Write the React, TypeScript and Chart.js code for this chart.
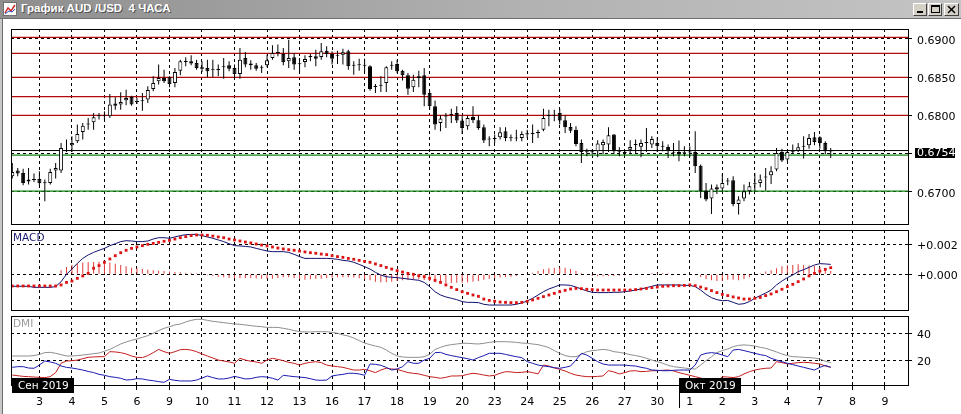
import React, { useEffect, useRef } from "react";
import { Chart, registerables } from "chart.js";

Chart.register(...registerables);

// ---------- DATA (AUD/USD, 4H bars) ----------
const open = [0.67204,0.67278,0.67248,0.67161,0.67156,0.67169,0.67126,0.67117,0.67278,0.67278,
0.67531,0.67609,0.67661,0.67783,0.67879,0.67909,0.67987,0.67987,0.67987,0.68153,
0.68140,0.68196,0.68240,0.68174,0.68183,0.68205,0.68344,0.68444,0.68488,0.68496,
0.68422,0.68583,0.68714,0.68705,0.68683,0.68627,0.68618,0.68596,0.68592,0.68627,
0.68653,0.68618,0.68540,0.68749,0.68675,0.68653,0.68622,0.68653,0.68749,0.68827,
0.68801,0.68705,0.68757,0.68675,0.68696,0.68762,0.68770,0.68762,0.68844,0.68801,
0.68779,0.68792,0.68836,0.68653,0.68653,0.68657,0.68640,0.68370,0.68387,0.68422,
0.68648,0.68670,0.68583,0.68522,0.68366,0.68488,0.68522,0.68292,0.68118,0.67900,
0.67983,0.68005,0.68031,0.67931,0.67857,0.67979,0.67935,0.67844,0.67683,0.67691,
0.67713,0.67792,0.67709,0.67696,0.67705,0.67765,0.67757,0.67770,0.67813,0.67992,
0.67996,0.68031,0.67935,0.67848,0.67813,0.67639,0.67522,0.67517,0.67531,0.67609,
0.67618,0.67748,0.67517,0.67509,0.67552,0.67613,0.67591,0.67639,0.67618,0.67639,
0.67600,0.67587,0.67504,0.67522,0.67504,0.67513,0.67522,0.67343,0.67017,0.66913,
0.67061,0.67043,0.67135,0.67152,0.66843,0.66913,0.67008,0.67100,0.67117,0.67187,
0.67217,0.67291,0.67522,0.67422,0.67517,0.67539,0.67591,0.67609,0.67713,0.67713,
0.67639,0.67526];

const high = [0.67378,0.67313,0.67304,0.67313,0.67239,0.67270,0.67161,0.67304,0.67378,0.67639,
0.67683,0.67726,0.67879,0.67900,0.67966,0.68029,0.68031,0.68053,0.68279,0.68235,
0.68300,0.68335,0.68257,0.68227,0.68292,0.68379,0.68509,0.68662,0.68596,0.68509,
0.68618,0.68727,0.68757,0.68783,0.68727,0.68705,0.68727,0.68727,0.68662,0.68749,
0.68705,0.68662,0.68879,0.68827,0.68718,0.68683,0.68653,0.68792,0.68914,0.68923,
0.68879,0.68988,0.68814,0.68749,0.68783,0.68801,0.68857,0.68944,0.68901,0.68836,
0.68844,0.68870,0.68857,0.68705,0.68740,0.68740,0.68653,0.68409,0.68509,0.68640,
0.68705,0.68727,0.68596,0.68553,0.68531,0.68583,0.68618,0.68314,0.68192,0.68000,
0.68031,0.68087,0.68118,0.68000,0.68000,0.68118,0.68000,0.67879,0.67726,0.67748,
0.67844,0.67844,0.67748,0.67813,0.67792,0.67813,0.67879,0.67813,0.68087,0.68074,
0.68074,0.68087,0.68000,0.67900,0.67857,0.67683,0.67565,0.67552,0.67674,0.67683,
0.67844,0.67757,0.67583,0.67539,0.67674,0.67683,0.67683,0.67835,0.67726,0.67713,
0.67661,0.67618,0.67639,0.67670,0.67596,0.67596,0.67792,0.67357,0.67117,0.67096,
0.67096,0.67235,0.67183,0.67204,0.66943,0.67096,0.67130,0.67248,0.67226,0.67313,
0.67335,0.67574,0.67565,0.67552,0.67618,0.67639,0.67726,0.67757,0.67783,0.67726,
0.67661,0.67574];

const low = [0.67174,0.67204,0.67087,0.67096,0.67130,0.67074,0.66878,0.67096,0.67174,0.67248,
0.67522,0.67522,0.67639,0.67683,0.67813,0.67813,0.67944,0.67931,0.67966,0.68074,
0.68074,0.68131,0.68126,0.68148,0.68061,0.68161,0.68314,0.68401,0.68422,0.68366,
0.68366,0.68522,0.68640,0.68653,0.68596,0.68566,0.68496,0.68496,0.68509,0.68479,
0.68575,0.68488,0.68479,0.68627,0.68596,0.68583,0.68553,0.68627,0.68727,0.68770,
0.68653,0.68618,0.68596,0.68553,0.68627,0.68705,0.68640,0.68727,0.68757,0.68662,
0.68670,0.68662,0.68596,0.68531,0.68583,0.68553,0.68322,0.68292,0.68305,0.68305,
0.68596,0.68553,0.68453,0.68270,0.68305,0.68366,0.68118,0.68074,0.67813,0.67792,
0.67835,0.67900,0.67900,0.67757,0.67813,0.67900,0.67813,0.67639,0.67596,0.67639,
0.67683,0.67661,0.67661,0.67661,0.67661,0.67705,0.67639,0.67705,0.67792,0.67857,
0.67922,0.67879,0.67770,0.67770,0.67596,0.67378,0.67465,0.67487,0.67452,0.67496,
0.67522,0.67496,0.67465,0.67478,0.67509,0.67509,0.67452,0.67522,0.67574,0.67522,
0.67531,0.67444,0.67465,0.67400,0.67465,0.67452,0.67248,0.66922,0.66878,0.66713,
0.66974,0.67008,0.67087,0.66813,0.66704,0.66878,0.66965,0.67008,0.67061,0.67017,
0.67104,0.67270,0.67391,0.67400,0.67496,0.67522,0.67435,0.67565,0.67609,0.67565,
0.67496,0.67444];

const close = [0.67261,0.67239,0.67117,0.67135,0.67169,0.67113,0.67113,0.67261,0.67313,0.67574,
0.67539,0.67639,0.67757,0.67865,0.67892,0.67974,0.68000,0.67996,0.68140,0.68126,
0.68174,0.68227,0.68140,0.68183,0.68192,0.68331,0.68422,0.68488,0.68444,0.68409,
0.68566,0.68705,0.68696,0.68675,0.68618,0.68609,0.68575,0.68601,0.68601,0.68635,
0.68609,0.68540,0.68727,0.68662,0.68653,0.68609,0.68631,0.68718,0.68814,0.68814,
0.68692,0.68749,0.68662,0.68666,0.68735,0.68770,0.68740,0.68836,0.68801,0.68740,
0.68788,0.68822,0.68640,0.68648,0.68657,0.68648,0.68344,0.68374,0.68396,0.68627,
0.68657,0.68575,0.68522,0.68348,0.68466,0.68509,0.68270,0.68118,0.67879,0.67957,
0.67992,0.68013,0.67931,0.67835,0.67966,0.67935,0.67835,0.67670,0.67687,0.67696,
0.67778,0.67705,0.67700,0.67700,0.67757,0.67748,0.67765,0.67778,0.67966,0.68000,
0.68000,0.67931,0.67844,0.67800,0.67626,0.67522,0.67517,0.67522,0.67631,0.67652,
0.67739,0.67531,0.67522,0.67513,0.67587,0.67622,0.67639,0.67648,0.67691,0.67596,
0.67591,0.67544,0.67513,0.67487,0.67513,0.67522,0.67335,0.67008,0.66900,0.67043,
0.67030,0.67117,0.67143,0.66843,0.66900,0.67008,0.67074,0.67109,0.67161,0.67196,
0.67270,0.67509,0.67409,0.67522,0.67526,0.67583,0.67600,0.67705,0.67652,0.67639,
0.67531,0.67540];

const macdMain = [-0.00080,-0.00080,-0.00080,-0.00080,-0.00087,-0.00087,-0.00087,-0.00087,-0.00082,-0.00049,
0.00000,0.00035,0.00073,0.00106,0.00129,0.00146,0.00160,0.00173,0.00191,0.00204,
0.00218,0.00224,0.00222,0.00218,0.00218,0.00222,0.00235,0.00244,0.00244,0.00240,
0.00249,0.00258,0.00264,0.00266,0.00266,0.00258,0.00249,0.00240,0.00229,0.00218,
0.00204,0.00191,0.00189,0.00186,0.00182,0.00173,0.00164,0.00155,0.00151,0.00151,
0.00151,0.00146,0.00133,0.00118,0.00106,0.00106,0.00106,0.00106,0.00106,0.00104,
0.00100,0.00093,0.00089,0.00080,0.00066,0.00051,0.00035,0.00013,-0.00005,-0.00016,
-0.00020,-0.00022,-0.00027,-0.00031,-0.00036,-0.00040,-0.00054,-0.00082,-0.00116,-0.00138,
-0.00151,-0.00160,-0.00169,-0.00182,-0.00187,-0.00187,-0.00189,-0.00200,-0.00205,-0.00205,
-0.00205,-0.00205,-0.00205,-0.00200,-0.00191,-0.00178,-0.00160,-0.00138,-0.00116,-0.00098,
-0.00085,-0.00071,-0.00071,-0.00074,-0.00085,-0.00098,-0.00111,-0.00120,-0.00122,-0.00122,
-0.00122,-0.00120,-0.00120,-0.00116,-0.00111,-0.00105,-0.00098,-0.00089,-0.00080,-0.00071,
-0.00071,-0.00071,-0.00071,-0.00071,-0.00074,-0.00074,-0.00082,-0.00105,-0.00134,-0.00156,
-0.00169,-0.00176,-0.00174,-0.00187,-0.00200,-0.00196,-0.00182,-0.00160,-0.00142,-0.00125,
-0.00105,-0.00071,-0.00045,-0.00022,-0.00005,0.00018,0.00031,0.00046,0.00062,0.00071,
0.00069,0.00066];

const macdSignal = [-0.00078,-0.00078,-0.00078,-0.00078,-0.00078,-0.00078,-0.00078,-0.00078,-0.00078,-0.00071,
-0.00054,-0.00045,-0.00027,-0.00011,0.00006,0.00040,0.00058,0.00080,0.00102,0.00124,
0.00144,0.00160,0.00173,0.00182,0.00191,0.00200,0.00206,0.00213,0.00220,0.00226,
0.00235,0.00244,0.00251,0.00258,0.00262,0.00262,0.00260,0.00255,0.00249,0.00244,
0.00235,0.00229,0.00222,0.00215,0.00209,0.00202,0.00195,0.00189,0.00182,0.00175,
0.00169,0.00164,0.00160,0.00155,0.00149,0.00144,0.00140,0.00135,0.00131,0.00124,
0.00118,0.00113,0.00106,0.00100,0.00093,0.00086,0.00080,0.00069,0.00058,0.00046,
0.00035,0.00024,0.00015,0.00006,0.00000,-0.00009,-0.00016,-0.00027,-0.00040,-0.00054,
-0.00071,-0.00087,-0.00102,-0.00116,-0.00127,-0.00138,-0.00147,-0.00165,-0.00174,-0.00180,
-0.00185,-0.00187,-0.00189,-0.00189,-0.00187,-0.00180,-0.00171,-0.00160,-0.00149,-0.00138,
-0.00127,-0.00116,-0.00107,-0.00098,-0.00094,-0.00096,-0.00100,-0.00102,-0.00105,-0.00105,
-0.00105,-0.00105,-0.00105,-0.00105,-0.00105,-0.00102,-0.00098,-0.00094,-0.00089,-0.00085,
-0.00080,-0.00078,-0.00076,-0.00076,-0.00074,-0.00071,-0.00076,-0.00085,-0.00096,-0.00109,
-0.00122,-0.00134,-0.00142,-0.00151,-0.00158,-0.00165,-0.00165,-0.00160,-0.00154,-0.00142,
-0.00131,-0.00116,-0.00100,-0.00082,-0.00067,-0.00049,-0.00031,-0.00011,0.00006,0.00022,
0.00033,0.00044];

const macdHist = [0,0,0,0,0,0,0,0,0,0.00027,
0.00049,0.00062,0.00071,0.00078,0.00080,0.00082,0.00084,0.00082,0.00078,0.00071,
0.00062,0.00053,0.00044,0.00040,0.00036,0.00031,0.00027,0.00024,0.00022,0.00018,
0.00016,0.00013,0.00011,0.00009,0.00007,0.00002,-0.00007,-0.00011,-0.00016,-0.00020,
-0.00024,-0.00027,-0.00027,-0.00024,-0.00024,-0.00027,-0.00029,-0.00029,-0.00029,-0.00024,
-0.00020,-0.00020,-0.00024,-0.00031,-0.00036,-0.00033,-0.00031,-0.00029,-0.00024,-0.00022,
-0.00020,-0.00020,-0.00020,-0.00022,-0.00027,-0.00033,-0.00040,-0.00049,-0.00053,-0.00053,
-0.00049,-0.00044,-0.00040,-0.00038,-0.00036,-0.00033,-0.00038,-0.00044,-0.00053,-0.00058,
-0.00060,-0.00058,-0.00056,-0.00056,-0.00053,-0.00049,-0.00044,-0.00036,-0.00031,-0.00027,
-0.00022,-0.00018,-0.00016,-0.00011,-0.00004,0.00002,0.00011,0.00022,0.00033,0.00040,
0.00044,0.00047,0.00044,0.00036,0.00022,0.00009,-0.00004,-0.00011,-0.00013,-0.00013,
-0.00011,-0.00011,-0.00009,-0.00007,-0.00004,-0.00002,0,0.00004,0.00009,0.00011,
0.00009,0.00007,0.00004,0.00004,0.00002,0,-0.00007,-0.00018,-0.00031,-0.00040,
-0.00044,-0.00044,-0.00036,-0.00036,-0.00040,-0.00031,-0.00020,-0.00004,0.00009,0.00018,
0.00027,0.00040,0.00053,0.00060,0.00062,0.00067,0.00062,0.00058,0.00056,0.00049,
0.00036,0.00022];

const adx = [23.7,23.7,23.7,23.7,24.0,24.9,26.2,26.4,25.7,24.7,
23.7,23.7,24.0,24.4,24.9,25.4,25.9,27.2,28.6,30.6,
32.6,34.1,35.3,36.3,37.5,38.8,40.5,42.5,44.2,45.4,
46.7,47.4,48.9,50.1,50.9,50.9,50.1,49.4,48.9,48.4,
47.9,47.4,47.2,46.7,46.2,45.7,45.4,44.9,44.9,44.9,
44.2,43.5,42.5,41.7,41.5,41.5,41.7,41.7,41.7,41.2,
40.5,39.3,38.5,37.0,35.1,33.3,32.1,31.1,30.1,28.1,
25.7,23.7,23.0,22.7,22.7,22.7,23.2,24.9,28.6,30.1,
31.4,32.1,32.6,33.1,33.1,32.8,32.6,33.1,33.8,34.3,
34.3,34.3,34.1,33.8,33.3,33.1,32.6,32.1,31.1,29.9,
27.7,25.7,24.0,23.2,23.2,24.9,26.9,27.7,28.1,28.6,
28.1,26.9,26.4,25.7,24.7,24.0,23.2,22.0,20.7,19.5,
18.3,16.8,15.8,15.3,14.8,14.3,14.1,17.0,20.2,23.2,
26.2,27.7,28.9,30.6,31.6,31.9,31.6,31.1,30.1,29.4,
28.1,26.7,25.2,24.0,23.2,23.0,22.7,22.5,22.2,21.5,
19.8,18.8];

const diMinus = [9.6,9.1,8.6,8.4,8.1,7.9,7.7,8.4,11.4,18.3,
20.0,20.2,20.7,21.7,22.7,23.0,23.2,23.2,26.9,26.7,
26.2,25.2,23.7,22.7,22.5,24.0,26.2,28.6,26.9,25.7,
26.9,28.4,28.6,28.1,26.9,25.2,23.7,22.2,20.7,20.0,
19.3,18.3,22.0,20.7,19.8,19.3,18.3,20.7,22.0,21.2,
20.2,19.0,18.3,17.0,18.3,19.0,19.5,18.8,17.0,16.3,
15.8,15.3,14.3,13.3,13.3,13.8,12.8,11.4,13.3,14.6,
14.1,13.8,12.6,11.4,10.9,10.4,9.4,8.4,7.9,7.2,
7.9,8.9,8.9,9.1,10.1,10.9,10.4,9.6,8.9,9.4,
10.9,12.1,11.9,11.4,11.6,12.1,11.4,10.4,17.0,16.3,
14.8,13.8,12.6,10.9,9.6,8.9,8.4,8.4,8.6,8.9,
12.8,11.9,10.4,11.4,12.6,12.8,12.1,12.3,12.8,12.8,
13.1,13.3,12.6,11.4,10.4,9.4,8.4,7.4,5.9,5.2,
4.7,8.4,8.1,7.7,8.4,10.4,12.1,13.3,14.1,14.6,
14.8,19.5,18.8,17.8,18.3,18.8,19.0,18.8,18.3,17.8,
16.3,15.3];

const diPlus = [15.3,15.8,15.8,14.8,14.6,17.0,20.0,19.3,18.3,16.3,
15.3,14.8,14.1,13.3,12.3,11.4,10.1,9.4,8.4,7.9,
7.2,5.9,6.2,6.9,6.7,5.9,5.4,4.7,4.2,6.4,
5.7,5.2,5.2,5.2,5.9,7.4,8.9,7.7,6.7,6.7,
7.4,8.6,7.7,6.7,6.9,7.9,8.4,8.1,7.2,5.9,
9.4,8.9,8.4,8.1,7.7,6.9,5.9,5.7,5.9,8.9,
9.6,10.1,10.9,10.9,10.4,9.4,17.8,17.5,16.8,15.3,
13.3,14.1,15.8,19.5,18.3,18.3,20.7,22.0,26.2,26.4,
24.9,24.0,23.2,22.5,21.7,20.7,22.5,24.0,25.7,25.7,
25.7,24.9,24.0,23.2,22.5,19.5,18.3,17.0,16.3,15.8,
15.1,14.6,15.3,16.3,20.7,25.7,24.4,22.0,19.5,17.8,
17.0,17.0,17.0,17.0,16.5,16.3,15.3,14.6,13.3,13.1,
12.8,12.8,13.1,13.3,13.3,13.3,17.0,24.4,25.7,26.2,
25.7,24.4,23.2,28.1,28.6,27.7,26.7,25.7,24.7,24.0,
22.0,20.7,19.5,18.3,17.3,16.3,15.3,14.3,13.3,15.3,
16.8,15.3];

const dayLabels = ["3","4","5","6","9","10","11","12","13","16","17","18","19","20","23","24","25","26","27","30","1","2","3","4","7","8","9"];
const FIRST_DAY_BAR = 5;
const BARS_PER_DAY = 6;
const monthLabels = ["Сен 2019", "Окт 2019"];
const monthStartBars = [-1, 123];

const priceTicks = [0.67, 0.675, 0.68, 0.685, 0.69];
const redLevels = [0.69018, 0.6881, 0.68496, 0.68245, 0.68];
const greenLevels = [0.6748, 0.6701];
const macdTicks = [0, 0.002];
const dmiTicks = [20, 40];

// ---------- VIEW ----------
const X_MIN = -0.24, X_MAX = 165.26;
const PRICE_MIN = 0.66568, PRICE_MAX = 0.69127;
const MACD_MIN = -0.002447, MACD_MAX = 0.002953;
const DMI_MIN = 1.48, DMI_MAX = 53.33;
const FONT = '"DejaVu Sans", sans-serif';
const lastPrice = close[close.length - 1];

function xAxis(showLabels: boolean): any {
  return {
    type: "linear", min: X_MIN, max: X_MAX, offset: false,
    afterBuildTicks: (s: any) => { s.ticks = dayLabels.map((_, k) => ({ value: FIRST_DAY_BAR + k * BARS_PER_DAY })); },
    afterFit: (s: any) => { s.height = showLabels ? 28 : 0; s.paddingLeft = 0; s.paddingRight = 0; },
    grid: { display: true, drawOnChartArea: true, drawTicks: showLabels, tickLength: 4, color: "#000", lineWidth: 1, tickColor: "#000", tickWidth: 1, tickBorderDash: [], offset: false },
    border: { display: false, dash: [3, 3] },
    ticks: {
      display: showLabels, autoSkip: false, maxRotation: 0, minRotation: 0, padding: 6, color: "#000",
      font: { family: FONT, size: 11 },
      callback: (v: number) => dayLabels[Math.round((v - FIRST_DAY_BAR) / BARS_PER_DAY)] ?? "",
    },
  };
}

function yAxis(min: number, max: number, ticks: number[], fmt: (v: number) => string, labelOffset: number, size: number): any {
  return {
    type: "linear", position: "right", min, max,
    afterBuildTicks: (s: any) => { s.ticks = ticks.map((v) => ({ value: v })); },
    afterFit: (s: any) => { s.width = 53; s.paddingTop = 0; s.paddingBottom = 0; },
    grid: { drawOnChartArea: true, drawTicks: true, tickLength: 4, color: "#000", lineWidth: 1, tickColor: "#000", tickBorderDash: [] },
    border: { display: false, dash: [3, 3] },
    ticks: { autoSkip: false, padding: 5, labelOffset, color: "#000", font: { family: FONT, size }, callback: (v: number) => fmt(v) },
  };
}

function baseOptions(yScale: any, showXLabels: boolean): any {
  return {
    responsive: false, animation: false, events: [],
    layout: { padding: { left: 11, right: 0, top: 0, bottom: 0 }, autoPadding: false },
    plugins: { legend: { display: false }, tooltip: { enabled: false } },
    elements: { line: { tension: 0 } },
    scales: { x: xAxis(showXLabels), y: yScale },
  };
}

const framePlugin = {
  id: "paneFrame",
  afterDraw(chart: any) {
    const { ctx, chartArea: a } = chart;
    ctx.save();
    ctx.strokeStyle = "#000";
    ctx.lineWidth = 1;
    ctx.setLineDash([]);
    ctx.strokeRect(a.left + 0.5, a.top + 0.5, a.right - a.left, a.bottom - a.top - 1);
    ctx.restore();
  },
};

function paneLabel(text: string, color: string) {
  return {
    id: "paneLabel",
    afterDraw(chart: any) {
      const { ctx, chartArea: a } = chart;
      ctx.save();
      ctx.font = `10.5px ${FONT}`;
      ctx.fillStyle = color;
      ctx.textBaseline = "middle";
      ctx.textAlign = "left";
      ctx.fillText(text, a.left + 2, a.top + 8);
      ctx.restore();
    },
  };
}

const priceBoxPlugin = {
  id: "priceBox",
  afterDraw(chart: any) {
    const { ctx } = chart;
    const y = chart.scales.y.getPixelForValue(lastPrice) + 2;
    ctx.save();
    ctx.fillStyle = "#000";
    ctx.fillRect(915, Math.round(y) - 5, 40, 10);
    ctx.fillStyle = "#fff";
    ctx.font = `11px ${FONT}`;
    ctx.textBaseline = "middle";
    ctx.textAlign = "left";
    ctx.fillText(lastPrice.toFixed(4), 917, Math.round(y) + 0.5);
    ctx.restore();
  },
};

const monthPlugin = {
  id: "months",
  afterDraw(chart: any) {
    const { ctx, chartArea: a, scales } = chart;
    ctx.save();
    monthLabels.forEach((label, k) => {
      const bar = monthStartBars[k];
      const px = bar < 0 ? a.left + 1 : Math.round(scales.x.getPixelForValue(bar));
      const top = a.bottom - 8;
      ctx.fillStyle = "#000";
      ctx.fillRect(px, top, 62, 15);
      if (bar >= 0) {
        ctx.fillRect(px, top, 1, 30);
      }
      ctx.fillStyle = "#fff";
      ctx.font = `10.5px ${FONT}`;
      ctx.textBaseline = "middle";
      ctx.textAlign = "left";
      ctx.fillText(label, px + 6, top + 8);
    });
    ctx.restore();
  },
};

function levelLine(v: number, color: string, order: number): any {
  return { type: "line", data: [{ x: X_MIN, y: v }, { x: X_MAX, y: v }], borderColor: color, borderWidth: 1.2, pointRadius: 0, order };
}

function priceConfig(): any {
  return {
    type: "bar",
    data: {
      datasets: [
        {
          type: "bar", data: open.map((o, i) => ({ x: i, y: [o, close[i]] })),
          barThickness: 4, backgroundColor: close.map((c, i) => (c >= open[i] ? "#ffffff" : "#000000")),
          borderColor: "#000", borderWidth: 1, borderSkipped: false, minBarLength: 1, grouped: false, inflateAmount: 0, order: 0,
        },
        {
          type: "bar", data: low.map((l, i) => ({ x: i, y: [l, high[i]] })),
          barThickness: 1, backgroundColor: "#000", borderWidth: 0, grouped: false, inflateAmount: 0, order: 1,
        },
        { ...levelLine(lastPrice, "#000", 2), borderWidth: 1 },
        ...redLevels.map((v) => levelLine(v, "#b00a0a", 3)),
        ...greenLevels.map((v) => levelLine(v, "#138413", 3)),
      ],
    },
    options: baseOptions(yAxis(PRICE_MIN, PRICE_MAX, priceTicks, (v) => v.toFixed(4), 2, 11), false),
    plugins: [framePlugin, priceBoxPlugin],
  };
}

function macdConfig(): any {
  return {
    type: "bar",
    data: {
      datasets: [
        {
          type: "line", data: macdSignal.map((v, i) => ({ x: i, y: v })), showLine: false,
          pointStyle: "rect", pointRadius: 2.0, pointBorderWidth: 0, pointBackgroundColor: "#dc1414", borderColor: "#dc1414", order: 0,
        },
        { type: "line", data: macdMain.map((v, i) => ({ x: i, y: v })), borderColor: "#10106e", borderWidth: 1, pointRadius: 0, order: 1 },
        { type: "bar", data: macdHist.map((v, i) => ({ x: i, y: v })), barThickness: 1, backgroundColor: "#e03a3a", borderWidth: 0, grouped: false, inflateAmount: 0, order: 2 },
      ],
    },
    options: baseOptions(yAxis(MACD_MIN, MACD_MAX, macdTicks, (v) => (v >= 0 ? "+" : "") + v.toFixed(3), 2, 11), false),
    plugins: [framePlugin, paneLabel("MACD", "#1a1a70")],
  };
}

function dmiConfig(): any {
  return {
    type: "line",
    data: {
      datasets: [
        { data: diPlus.map((v, i) => ({ x: i, y: v })), borderColor: "#1a1ab0", borderWidth: 1, pointRadius: 0, order: 0 },
        { data: diMinus.map((v, i) => ({ x: i, y: v })), borderColor: "#c41e1e", borderWidth: 1, pointRadius: 0, order: 1 },
        { data: adx.map((v, i) => ({ x: i, y: v })), borderColor: "#8e8e8e", borderWidth: 1, pointRadius: 0, order: 2 },
      ],
    },
    options: baseOptions(yAxis(DMI_MIN, DMI_MAX, dmiTicks, (v) => String(Math.round(v)), 1.5, 11), true),
    plugins: [framePlugin, paneLabel("DMI", "#9a9a9a"), monthPlugin],
  };
}

function WinButton({ left, width, kind }: { left: number; width: number; kind: string }) {
  return (
    <div style={{ position: "absolute", left, top: 3, width, height: 13, boxSizing: "border-box", background: "#d4d0c8",
      borderTop: "1px solid #ffffff", borderLeft: "1px solid #ffffff", borderRight: "1px solid #404040", borderBottom: "1px solid #404040" }}>
      <svg width={width - 2} height={11} style={{ position: "absolute", left: 0, top: 0 }}>
        {kind === "min" && <rect x={3} y={7} width={6} height={2} fill="#000" />}
        {kind === "max" && (
          <g>
            <rect x={2.5} y={1.5} width={8} height={7} fill="none" stroke="#000" />
            <rect x={2} y={1} width={9} height={2} fill="#000" />
          </g>
        )}
        {kind === "close" && (
          <g stroke="#000" strokeWidth={1.5}>
            <line x1={3} y1={2} x2={10} y2={9} />
            <line x1={10} y1={2} x2={3} y2={9} />
          </g>
        )}
      </svg>
    </div>
  );
}

export default function App() {
  const priceRef = useRef<HTMLCanvasElement>(null);
  const macdRef = useRef<HTMLCanvasElement>(null);
  const dmiRef = useRef<HTMLCanvasElement>(null);

  useEffect(() => {
    const charts: Chart[] = [];
    if (priceRef.current) charts.push(new Chart(priceRef.current, priceConfig()));
    if (macdRef.current) charts.push(new Chart(macdRef.current, macdConfig()));
    if (dmiRef.current) charts.push(new Chart(dmiRef.current, dmiConfig()));
    return () => charts.forEach((c) => c.destroy());
  }, []);

  const canvasStyle = (top: number, height: number): React.CSSProperties => ({ position: "absolute", left: 0, top, width: 961, height, display: "block" });

  return (
    <div style={{ position: "fixed", left: 0, top: 0, width: 961, height: 414, background: "#ffffff", overflow: "hidden" }}>
      <canvas ref={priceRef} width={961} height={196} style={canvasStyle(29, 196)} />
      <canvas ref={macdRef} width={961} height={81} style={canvasStyle(230, 81)} />
      <canvas ref={dmiRef} width={961} height={98} style={canvasStyle(316, 98)} />

      {/* title bar */}
      <div style={{ position: "absolute", left: 0, top: 0, width: 961, height: 18, background: "linear-gradient(to right, #8e8e8e 0%, #b2b2b2 55%, #c4c4c4 100%)" }}>
        <svg width={14} height={14} style={{ position: "absolute", left: 3, top: 2 }}>
          <rect x={0.5} y={0.5} width={13} height={13} fill="#ffffff" stroke="#707070" />
          <polyline points="2,11 5,6 8,9 12,3" fill="none" stroke="#d02020" strokeWidth={1.4} />
          <polyline points="2,12 6,9 9,10 12,7" fill="none" stroke="#3050c0" strokeWidth={1} />
        </svg>
        <span style={{ position: "absolute", left: 21, top: 2, font: 'bold 11.5px "Liberation Sans", Arial, sans-serif', lineHeight: "13px", color: "#ffffff", textShadow: "1px 1px 0 #505050", whiteSpace: "pre" }}>
          График AUD /USD  4 ЧАСА
        </span>
        <WinButton left={913} width={14} kind="min" />
        <WinButton left={928} width={14} kind="max" />
        <WinButton left={944} width={15} kind="close" />
      </div>
      <div style={{ position: "absolute", left: 0, top: 18, width: 961, height: 1, background: "#6e6e6e" }} />
      {/* window left frame */}
      <div style={{ position: "absolute", left: 0, top: 19, width: 2, height: 395, background: "#c8c8c8" }} />
      <div style={{ position: "absolute", left: 2, top: 19, width: 1, height: 395, background: "#6e6e6e" }} />
    </div>
  );
}
